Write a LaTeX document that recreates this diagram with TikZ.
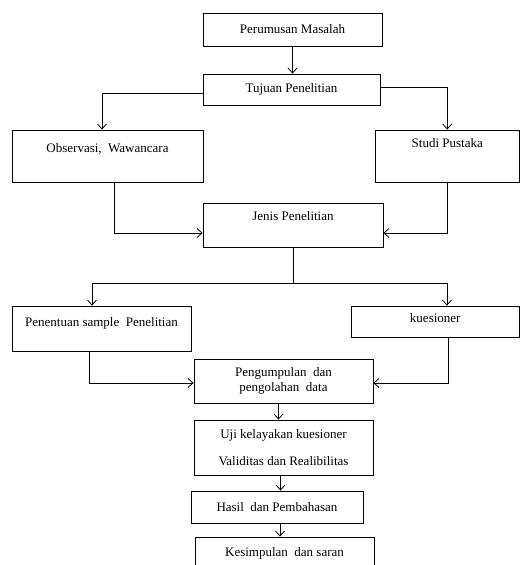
\documentclass[tikz,border=0pt]{standalone}
\usepackage{fontspec}
\setmainfont{Liberation Serif}
\usetikzlibrary{arrows.meta, positioning}

\begin{document}
\begin{tikzpicture}[
        x=1pt, y=-1pt,
        box/.style={rectangle, draw=black, line width=0.8pt, align=center, inner sep=0pt, font=\fontsize{13}{15}\selectfont},
        arrow/.style={-{Straight Barb[length=5pt, width=9pt]}, line width=0.8pt},
        line/.style={line width=0.8pt}
    ]
    \clip (0,0) rectangle (520,565);
    \fill[white] (0,0) rectangle (520,565);

    % Kotak alur penelitian
    \node (per) [box, minimum width=179, minimum height=33] at (292.5, 29.5)  {Perumusan Masalah};
    \node (tuj) [box, minimum width=177, minimum height=31] at (291.5, 89.5)  {Tujuan Penelitian};
    \node (obs) [box, minimum width=191, minimum height=52, text depth=16] at (107.5, 156) {Observasi,\ \ Wawancara};
    \node (stu) [box, minimum width=144.5, minimum height=52, text depth=26] at (447.25, 156) {Studi Pustaka};
    \node (jen) [box, minimum width=180, minimum height=44, text depth=18] at (293, 225) {Jenis Penelitian};
    \node (pen) [box, minimum width=179, minimum height=45, text depth=13] at (101.5, 328.5) {Penentuan sample\ \ Penelitian};
    \node (kue) [box, minimum width=168.5, minimum height=31, text depth=7] at (435.25, 321.5) {kuesioner};
    \node (pgm) [box, minimum width=179, minimum height=44] at (283.5, 381) {Pengumpulan\ \ dan\\ pengolahan\ \ data};
    \node (uji) [box, minimum width=179, minimum height=55] at (283.5, 447.5) {Uji kelayakan kuesioner\\[12pt] Validitas dan Realibilitas};
    \node (has) [box, minimum width=172, minimum height=32] at (277, 507) {Hasil\ \ dan Pembahasan};
    \node (kes) [box, minimum width=179, minimum height=32] at (284.5, 553) {Kesimpulan\ \ dan saran};

    \coordinate (split) at (293, 283);

    % Panah antar kotak
    \draw [arrow] (per.south) -- (per.south |- tuj.north);
    \draw [arrow] ([yshift=-3.5]tuj.west) -| ([xshift=-5.5]obs.north);
    \draw [arrow] ([yshift=2.5]tuj.east) -| (stu.north);
    \draw [arrow] ([xshift=6.5]obs.south) |- ([yshift=-8]jen.west);
    \draw [arrow] (stu.south) |- ([yshift=-8]jen.east);
    \draw [line]  (jen.south) -- (split);
    \draw [arrow] (split) -| ([xshift=-9.5]pen.north);
    \draw [arrow] (split) -| ([xshift=11.75]kue.north);
    \draw [arrow] ([xshift=-12.5]pen.south) |- ([yshift=-2]pgm.west);
    \draw [arrow] ([xshift=12.75]kue.south) |- ([yshift=-2]pgm.east);
    \draw [arrow] ([xshift=-5]pgm.south) -- ([xshift=-5]pgm.south |- uji.north);
    \draw [arrow] ([xshift=-3]uji.south) -- ([xshift=-3]uji.south |- has.north);
    \draw [arrow] ([xshift=3]has.south) -- ([xshift=3]has.south |- kes.north);

\end{tikzpicture}
\end{document}
